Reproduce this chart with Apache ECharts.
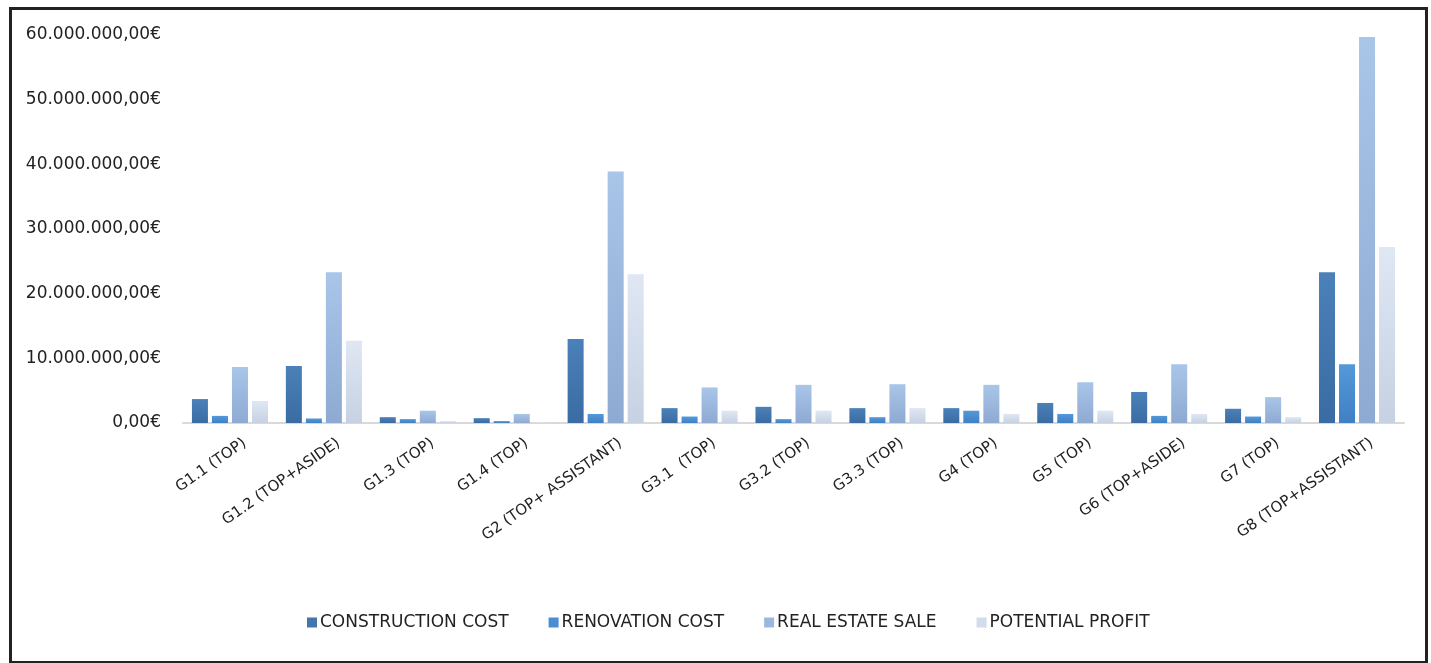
<!DOCTYPE html>
<html>
<head>
<meta charset="utf-8">
<script src="https://cdn.jsdelivr.net/npm/echarts@6/dist/echarts.min.js"></script>
<style>
html,body{margin:0;padding:0;background:#fff;}
#chart{width:1431px;height:663px;}
</style>
</head>
<body>
<div id="chart"></div>
<script>
const categories = ["G1.1 (TOP)","G1.2 (TOP+ASIDE)","G1.3 (TOP)","G1.4 (TOP)","G2 (TOP+ ASSISTANT)","G3.1  (TOP)","G3.2 (TOP)","G3.3 (TOP)","G4 (TOP)","G5 (TOP)","G6 (TOP+ASIDE)","G7 (TOP)","G8 (TOP+ASSISTANT)"];
const constructionCost = [3700000,8800000,900000,750000,13000000,2300000,2500000,2300000,2300000,3100000,4800000,2200000,23300000];
const renovationCost   = [1100000,700000,600000,300000,1400000,1000000,600000,900000,1900000,1400000,1100000,1000000,9100000];
const realEstateSale   = [8650000,23300000,1900000,1400000,38900000,5500000,5900000,6000000,5900000,6300000,9100000,4000000,59700000];
const potentialProfit  = [3400000,12700000,300000,100000,23000000,1900000,1900000,2300000,1400000,1900000,1400000,900000,27200000];
const seriesNames = ["CONSTRUCTION COST","RENOVATION COST","REAL ESTATE SALE","POTENTIAL PROFIT"];

function grad(top, bottom){
  return new echarts.graphic.LinearGradient(0,0,0,1,[{offset:0,color:top},{offset:1,color:bottom}]);
}
function fmt(v){
  const s = Math.round(v).toString().replace(/\B(?=(\d{3})+(?!\d))/g, ".");
  return s + ",00€";
}
const fontFam = "'DejaVu Sans', sans-serif";
const colors = [
  grad('#4b80b8','#3a6ca3'),
  grad('#5499da','#3f80c4'),
  grad('#a9c5e8','#8eaad2'),
  grad('#dfe7f3','#c6d1e2')
];
const legendColors = ['#4276ad','#4a8dd0','#9cb8de','#d3dcea'];
const dataSets = [constructionCost, renovationCost, realEstateSale, potentialProfit];

const chart = echarts.init(document.getElementById('chart'));
chart.setOption({
  animation:false,
  backgroundColor:'#fff',
  graphic:[{type:'rect',left:8,top:6,shape:{width:1416,height:654},style:{fill:'none',stroke:'#222',lineWidth:3},silent:true}],
  grid:{left:183,right:27,top:35,bottom:240,containLabel:false},
  legend:{
    bottom:27,left:302,itemWidth:10,itemHeight:10,itemGap:40,icon:'rect',
    textStyle:{fontSize:17,color:'#222',fontFamily:fontFam,padding:[0,0,0,-2]},
    data:seriesNames.map((n,i)=>({name:n,itemStyle:{color:legendColors[i]}}))
  },
  xAxis:{
    type:'category',data:categories,
    axisLine:{lineStyle:{color:'#d9d9d9',width:2}},
    axisTick:{show:false},
    axisLabel:{rotate:35,interval:0,fontSize:15,color:'#222',fontFamily:fontFam,margin:29,padding:[0,-18,0,0]}
  },
  yAxis:{
    type:'value',min:0,max:60000000,interval:10000000,
    splitLine:{show:false},axisLine:{show:false},axisTick:{show:false},
    axisLabel:{formatter:fmt,fontSize:17,color:'#222',fontFamily:fontFam,margin:22}
  },
  series:dataSets.map((d,i)=>({
    name:seriesNames[i],type:'bar',data:d,
    barGap:'25%',barCategoryGap:'19%',
    itemStyle:{color:colors[i]}
  }))
});
</script>
</body>
</html>
